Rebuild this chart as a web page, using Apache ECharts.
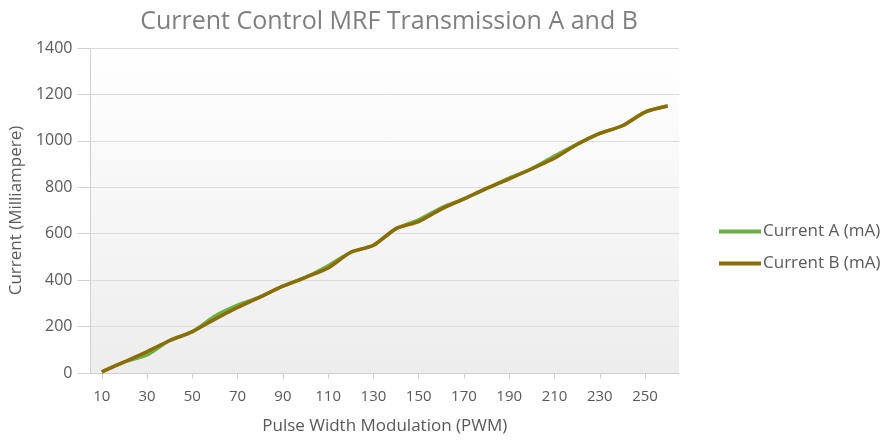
<!DOCTYPE html>
<html>
<head>
<meta charset="utf-8">
<script src="https://cdn.jsdelivr.net/npm/echarts@6/dist/echarts.min.js"></script>
<style>
  html, body { margin: 0; padding: 0; background: #ffffff; }
  #chart { width: 884px; height: 440px; }
</style>
</head>
<body>
<div id="chart"></div>
<script>
// PWM duty settings (x axis categories)
const pwmSteps = [10, 20, 30, 40, 50, 60, 70, 80, 90, 100, 110, 120, 130,
                  140, 150, 160, 170, 180, 190, 200, 210, 220, 230, 240, 250, 260];

// Measured coil current for each transmission, in mA
const currentA = [5, 48, 78, 140, 178, 245, 292, 328, 374, 412, 462, 520, 550,
                  622, 660, 712, 750, 795, 840, 880, 935, 985, 1032, 1065, 1124, 1150];
const currentB = [5, 48, 92, 140, 178, 232, 282, 328, 374, 412, 452, 520, 550,
                  622, 652, 706, 750, 795, 836, 880, 925, 985, 1032, 1065, 1124, 1150];

// Value axis ticks
const yTicks = [0, 200, 400, 600, 800, 1000, 1200, 1400];

const FONT = '"Open Sans", "Noto Sans", sans-serif';
const TEXT = '#595959';

const chart = echarts.init(document.getElementById('chart'), null, { renderer: 'canvas' });

chart.setOption({
  animation: false,
  textStyle: { fontFamily: FONT },
  title: {
    text: 'Current Control MRF Transmission A and B',
    left: 384,
    top: 4,
    textAlign: 'center',
    textStyle: { fontFamily: FONT, fontSize: 25, fontWeight: 'normal', color: '#7f7f7f' }
  },
  legend: {
    orient: 'vertical',
    left: 714,
    top: 218,
    itemGap: 15,
    itemWidth: 42,
    itemHeight: 4,
    icon: 'rect',
    textStyle: { fontFamily: FONT, fontSize: 17, color: TEXT, padding: [0, 0, 0, -3] },
    data: ['Current A (mA)', 'Current B (mA)']
  },
  grid: {
    left: 90,
    right: 205,
    top: 48,
    bottom: 67,
    show: true,
    borderWidth: 0,
    backgroundColor: new echarts.graphic.LinearGradient(0, 0, 0, 1, [
      { offset: 0, color: '#ffffff' },
      { offset: 1, color: '#ededed' }
    ])
  },
  xAxis: {
    type: 'category',
    data: pwmSteps,
    boundaryGap: true,
    name: 'Pulse Width Modulation (PWM)',
    nameLocation: 'middle',
    nameGap: 45,
    nameTextStyle: { fontFamily: FONT, fontSize: 17, color: TEXT },
    axisLine: { show: true, lineStyle: { color: '#d0d0d0', width: 1 } },
    axisTick: { show: true, alignWithLabel: true, interval: 1, length: 6, lineStyle: { color: '#d0d0d0' } },
    axisLabel: { interval: 1, margin: 16, fontSize: 15, color: TEXT, fontFamily: FONT },
    splitLine: { show: false }
  },
  yAxis: {
    type: 'value',
    min: yTicks[0],
    max: yTicks[yTicks.length - 1],
    interval: yTicks[1] - yTicks[0],
    name: 'Current (Milliampere)',
    nameLocation: 'middle',
    nameGap: 65,
    nameTextStyle: { fontFamily: FONT, fontSize: 17, color: TEXT },
    axisLine: { show: true, lineStyle: { color: '#d0d0d0', width: 1 } },
    axisTick: { show: true, length: 13, lineStyle: { color: '#d0d0d0' } },
    axisLabel: {
      margin: 18, fontSize: 16, color: TEXT, fontFamily: FONT,
      formatter: (v) => String(v)
    },
    splitLine: { show: true, lineStyle: { color: '#dcdcdc', width: 1 } }
  },
  series: [
    {
      name: 'Current A (mA)',
      type: 'line',
      data: currentA,
      smooth: 0.25,
      showSymbol: false,
      symbol: 'none',
      lineStyle: { color: '#6fae45', width: 3.5 },
      itemStyle: { color: '#6fae45' }
    },
    {
      name: 'Current B (mA)',
      type: 'line',
      data: currentB,
      smooth: 0.25,
      showSymbol: false,
      symbol: 'none',
      lineStyle: { color: '#8c6c07', width: 3.5 },
      itemStyle: { color: '#8c6c07' }
    }
  ]
});
</script>
</body>
</html>
